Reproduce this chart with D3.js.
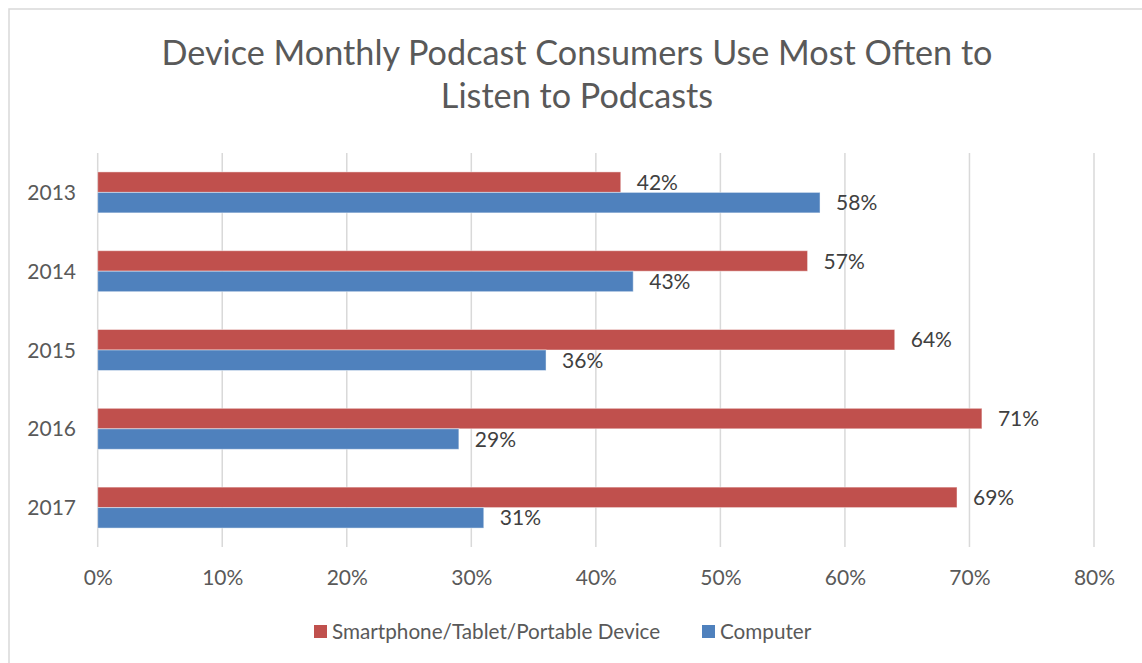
<!DOCTYPE html>
<html>
<head>
<meta charset="utf-8">
<script src="https://cdn.jsdelivr.net/npm/d3@7"></script>
<style>
body { margin: 0; background: #fff; }
text { font-family: Lato, "Open Sans", sans-serif; }
</style>
</head>
<body>
<div id="chart"></div>
<script>
// data
var years = ["2013", "2014", "2015", "2016", "2017"];
var smartphone = [42, 57, 64, 71, 69];
var computer = [58, 43, 36, 29, 31];
var seriesNames = ["Smartphone/Tablet/Portable Device", "Computer"];
var tickValues = [0, 10, 20, 30, 40, 50, 60, 70, 80];
var titleLines = ["Device Monthly Podcast Consumers Use Most Often to", "Listen to Podcasts"];

var W = 1142, H = 663;
var colors = ["#C0504D", "#4F81BD"];

var svg = d3.select("#chart").append("svg")
	.attr("width", W)
	.attr("height", H);

// chart border (only top and left edges fall inside the picture)
svg.append("path")
	.attr("d", "M9," + H + "V9H" + W)
	.attr("fill", "none")
	.attr("stroke", "#d9d9d9")
	.attr("stroke-width", 1.5);

var plot = { left: 97.7, right: 1094, top: 153, bottom: 547 };

var x = d3.scaleLinear().domain([0, 80]).range([plot.left, plot.right]);
var y = d3.scaleBand().domain(years).range([plot.top, plot.bottom])
	.paddingInner(0.48).paddingOuter(0.24);
var ySeries = d3.scaleBand().domain([0, 1]).range([0, y.bandwidth()]);

// title
svg.append("g").selectAll("text")
	.data(titleLines)
	.enter().append("text")
	.attr("x", 577)
	.attr("y", (d, i) => 65 + i * 43)
	.attr("text-anchor", "middle")
	.attr("fill", "#595959")
	.style("font-size", "34.2px")
	.text(d => d);

// gridlines
svg.append("g")
	.selectAll("line")
	.data(tickValues)
	.enter().append("line")
	.attr("x1", d => x(d)).attr("x2", d => x(d))
	.attr("y1", plot.top).attr("y2", plot.bottom)
	.attr("stroke", "#d9d9d9")
	.attr("stroke-width", 1.5);

// x axis labels
var xAxis = svg.append("g")
	.attr("transform", "translate(0," + 585 + ")")
	.call(d3.axisBottom(x).tickValues(tickValues).tickFormat(d => d + "%").tickSize(0).tickPadding(0));
xAxis.select(".domain").remove();
xAxis.selectAll("text")
	.attr("dy", 0)
	.attr("fill", "#595959")
	.style("font-size", "21px");

// y axis labels
var yAxis = svg.append("g")
	.attr("transform", "translate(" + 76 + ",0)")
	.call(d3.axisLeft(y).tickSize(0).tickPadding(0));
yAxis.select(".domain").remove();
yAxis.selectAll("text")
	.attr("dy", "0.36em")
	.attr("fill", "#595959")
	.style("font-size", "21px");

// bars
var rows = years.map((yr, i) => ({ year: yr, values: [smartphone[i], computer[i]] }));

var groups = svg.selectAll(".year")
	.data(rows)
	.enter().append("g")
	.attr("class", "year")
	.attr("transform", d => "translate(0," + y(d.year) + ")");

groups.selectAll("rect")
	.data(d => d.values.map((v, s) => ({ v: v, s: s })))
	.enter().append("rect")
	.attr("x", x(0))
	.attr("y", d => ySeries(d.s))
	.attr("width", d => x(d.v) - x(0))
	.attr("height", ySeries.bandwidth())
	.attr("fill", d => colors[d.s])
	.attr("stroke", "rgba(255,255,255,0.45)")
	.attr("stroke-width", 1);

groups.selectAll(".val")
	.data(d => d.values.map((v, s) => ({ v: v, s: s })))
	.enter().append("text")
	.attr("class", "val")
	.attr("x", d => x(d.v) + 16)
	.attr("y", d => ySeries(d.s) + ySeries.bandwidth() / 2)
	.attr("dy", "0.36em")
	.attr("fill", "#404040")
	.style("font-size", "21px")
	.text(d => d.v + "%");

// legend
var legendX = [314, 702];
var legend = svg.selectAll(".legend")
	.data(seriesNames)
	.enter().append("g")
	.attr("class", "legend")
	.attr("transform", (d, i) => "translate(" + legendX[i] + ",625)");

legend.append("rect")
	.attr("width", 13)
	.attr("height", 13)
	.attr("fill", (d, i) => colors[i]);

legend.append("text")
	.attr("x", 18)
	.attr("y", 14)
	.attr("fill", "#595959")
	.style("font-size", "20.7px")
	.text(d => d);
</script>
</body>
</html>
